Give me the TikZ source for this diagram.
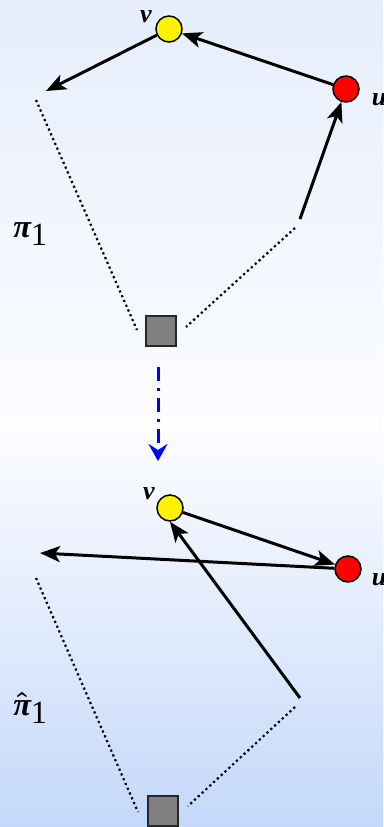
\documentclass[tikz,border=0pt]{standalone}
\usepackage{amsmath,amssymb}
\usepackage{fontspec}
\setmainfont{Liberation Serif}
\usetikzlibrary{arrows.meta}

\definecolor{bgtop}{RGB}{230,238,252}
\definecolor{bgmid}{RGB}{252,253,255}
\definecolor{bgbot}{RGB}{196,216,250}

\tikzset{
  vtx/.style={draw,circle,line width=1.5pt,minimum size=26pt,inner sep=0pt},
  root/.style={draw=black!85,fill=gray,line width=1.5pt,minimum size=30pt,inner sep=0pt},
  arc/.style={line width=3pt,-{Stealth[length=20pt,width=16pt,inset=5pt]}},
  trail/.style={line width=2.2pt,dash pattern=on 2.2pt off 3pt},
  flow/.style={blue,line width=3pt,dash pattern=on 14pt off 7pt on 3pt off 7pt,
    -{Stealth[length=17pt,width=19pt,inset=6pt]}},
  lbl/.style={font=\fontsize{26}{30}\selectfont\bfseries\itshape},
  pilbl/.style={font=\fontsize{24}{28}\selectfont,scale=1.35,inner sep=0pt,anchor=base west}
}
\newcommand{\bpi}{{\bfseries\itshape π}}

\begin{document}
\begin{tikzpicture}[x=1pt,y=-1pt]
\shade[top color=bgtop,bottom color=bgmid] (0,0) rectangle (383,430);
\shade[top color=bgmid,bottom color=bgbot] (0,430) rectangle (383,827);
\useasboundingbox (0,0) rectangle (383,827);

% first path
\node[vtx,fill=yellow](v1) at (169,29){};
\node[lbl](v1l) at (146,17){v};
\node[vtx,fill=red](u1) at (346,89){};
\node[lbl](u1l) at (379,100){u};
\node[root](s1) at (161,331){};
\node[pilbl](pi1) at (13,237){\bpi\raisebox{-6pt}{1}};
\coordinate (a1) at (46,91);
\coordinate (b1) at (36,100);
\coordinate (e1) at (137,330);
\coordinate (c1) at (300,219);
\coordinate (d1) at (295,228);
\coordinate (f1) at (186,327);
\draw[arc] (u1) -- (v1);
\draw[arc] (v1) -- (a1);
\draw[arc] (c1) -- (u1);
\draw[trail] (b1) -- (e1);
\draw[trail] (d1) -- (f1);

% transformation
\coordinate (t1) at (158,367);
\coordinate (t2) at (158,461);
\draw[flow] (t1) -- (t2);

% second path
\node[vtx,fill=yellow](v2) at (170,508){};
\node[lbl](v2l) at (149,494){v};
\node[vtx,fill=red](u2) at (348,569){};
\node[lbl](u2l) at (379,580){u};
\node[root](s2) at (163,811){};
\node[pilbl](pi2) at (13,715){$\boldsymbol{\hat{\text{\bpi}}}$\raisebox{-6pt}{1}};
\coordinate (a2) at (40,553);
\coordinate (b2) at (36,578);
\coordinate (e2) at (138,812);
\coordinate (c2) at (300,698);
\coordinate (d2) at (295,707);
\coordinate (f2) at (188,806);
\draw[arc] (v2) -- (u2);
\draw[arc] (u2) -- (a2);
\draw[arc] (c2) -- (v2.south);
\draw[trail] (b2) -- (e2);
\draw[trail] (d2) -- (f2);
\end{tikzpicture}
\end{document}
